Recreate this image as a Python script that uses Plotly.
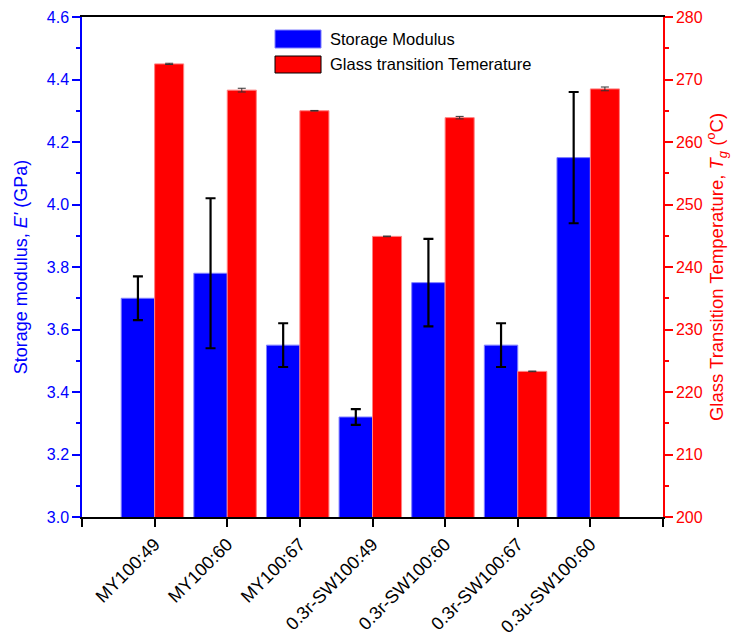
import plotly.graph_objects as go

categories = ["MY100:49", "MY100:60", "MY100:67", "0.3r-SW100:49",
              "0.3r-SW100:60", "0.3r-SW100:67", "0.3u-SW100:60"]
storage_modulus = [3.70, 3.78, 3.55, 3.32, 3.75, 3.55, 4.15]
storage_err = [0.07, 0.24, 0.07, 0.025, 0.14, 0.07, 0.21]
tg = [272.5, 268.3, 265.0, 244.9, 263.9, 223.3, 268.5]
tg_err = [0.1, 0.3, 0.05, 0.05, 0.2, 0.05, 0.3]
series_names = ["Storage Modulus", "Glass transition Temerature"]

x = list(range(len(categories)))
FONT = "Liberation Sans, Arial, sans-serif"
BLUE = "#0000ff"
RED = "#ff0000"

fig = go.Figure()
fig.add_trace(go.Bar(
    x=x, y=storage_modulus, name=series_names[0], showlegend=False,
    marker=dict(color=BLUE, line=dict(color="#8080ff", width=1)),
    offset=-0.46, width=0.46,
    error_y=dict(type="data", array=storage_err, color="black", thickness=2.2, width=5),
    yaxis="y",
))
fig.add_trace(go.Bar(
    x=x, y=tg, name=series_names[1], showlegend=False,
    marker=dict(color=RED, line=dict(color="#ff8080", width=1)),
    offset=0.0, width=0.40,
    error_y=dict(type="data", array=tg_err, color="#333333", thickness=1, width=4),
    yaxis="y2",
))

# legend drawn as swatches + labels (decoration, in paper coordinates)
legend_items = [
    (series_names[0], BLUE, "#8080ff", 0.974, 0.938),
    (series_names[1], RED, "black", 0.922, 0.888),
]
for name, fill, edge, y1, y0 in legend_items:
    fig.add_shape(type="rect", xref="paper", yref="paper",
                  x0=0.3322, x1=0.4114, y0=y0, y1=y1,
                  fillcolor=fill, line=dict(color=edge, width=1))
    fig.add_annotation(xref="paper", yref="paper", x=0.4234, y=(y0 + y1) / 2,
                       xanchor="left", yanchor="middle", showarrow=False,
                       text=name, font=dict(size=16.5, family=FONT, color="black"))

fig.update_layout(
    width=738, height=641,
    margin=dict(l=82, r=75, t=17, b=124),
    plot_bgcolor="white", paper_bgcolor="white",
    font=dict(family=FONT, size=16, color="black"),
    barmode="overlay",
    showlegend=False,
    xaxis=dict(
        range=[-1, 7], tickmode="array",
        tickvals=x, ticktext=categories, automargin=False,
        tickangle=-45, ticks="outside", ticklen=8, tickwidth=1.5, tickcolor="black",
        minor=dict(tickmode="array", tickvals=[-1, 7], ticks="outside",
                   ticklen=8, tickwidth=1.5, tickcolor="black"),
        showline=True, linecolor="black", linewidth=1.5, mirror=True,
        showgrid=False, zeroline=False,
        tickfont=dict(size=18, family=FONT, color="black"),
    ),
    yaxis=dict(
        range=[3.0, 4.6], dtick=0.2, tick0=3.0, tickformat=".1f", automargin=False,
        ticks="outside", ticklen=8, tickwidth=1.5, tickcolor=BLUE,
        minor=dict(dtick=0.1, ticks="outside", ticklen=4, tickcolor=BLUE, tickwidth=1.5),
        showline=True, linecolor=BLUE, linewidth=1.5,
        showgrid=False, zeroline=False,
        tickfont=dict(size=16, family=FONT, color=BLUE),
        title=dict(text="Storage modulus, <i>E'</i> (GPa)",
                   font=dict(size=18, family=FONT, color=BLUE), standoff=14),
    ),
    yaxis2=dict(
        range=[200, 280], dtick=10, tick0=200, overlaying="y", side="right",
        automargin=False,
        ticks="outside", ticklen=8, tickwidth=1.5, tickcolor=RED,
        minor=dict(dtick=5, ticks="outside", ticklen=4, tickcolor=RED, tickwidth=1.5),
        showline=True, linecolor=RED, linewidth=1.5,
        showgrid=False, zeroline=False,
        tickfont=dict(size=16, family=FONT, color=RED),
        title=dict(text="Glass Transition Temperature, <i>T</i><sub><i>g</i></sub> (<sup>o</sup>C)",
                   font=dict(size=18.5, family=FONT, color=RED), standoff=8),
    ),
)

fig.write_html("out.html")
